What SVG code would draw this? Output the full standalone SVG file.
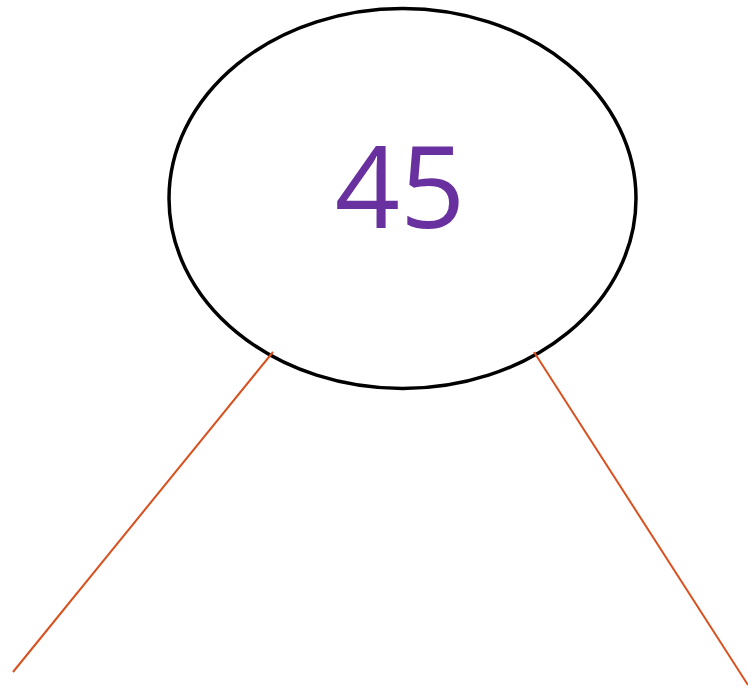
<svg xmlns="http://www.w3.org/2000/svg" width="748" height="691" viewBox="0 0 748 691">
<style>
.edge{stroke:#d9501e;stroke-width:2;fill:none}
.node{fill:none;stroke:#000000;stroke-width:3.5}
.label{fill:#6930a0;font-family:"Open Sans","DejaVu Sans",sans-serif;font-size:114px;font-weight:400;text-anchor:middle}
</style>
<rect width="748" height="691" fill="#ffffff"/>
<g id="node-45">
<ellipse class="node" cx="402.5" cy="198.5" rx="233.5" ry="190"/>
<text class="label" x="400" y="228">45</text>
</g>
<g id="connectors">
<line class="edge" x1="273" y1="352" x2="13" y2="672"/>
<line class="edge" x1="534" y1="352" x2="748" y2="685"/>
</g>
</svg>
